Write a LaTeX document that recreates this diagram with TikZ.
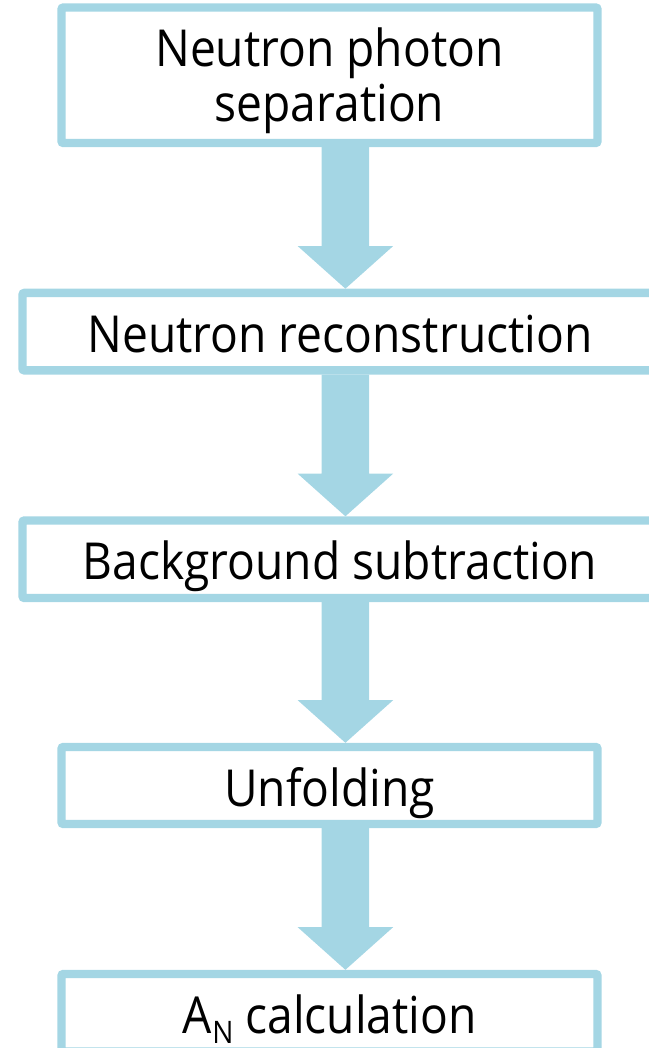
\documentclass[tikz,border=0pt]{standalone}
\usepackage{fontspec}
\setmainfont{Open Sans}[FakeStretch=0.905]
\usetikzlibrary{calc}
\definecolor{flowblue}{RGB}{164,214,228}
\tikzset{
  stepbox/.style={draw=flowblue, fill=white, line width=8.4pt, rounded corners=2pt,
    inner sep=0pt, minimum height=77.5pt, text height=41pt, text depth=0pt,
    font=\fontsize{51}{55}\selectfont, text=black},
  fatarrow/.style={fill=flowblue}
}
\newcommand\flowarrow[2]{%
  \path[fatarrow] let \p1=(#1.south -| ax), \p2=(#2.north -| ax) in
    (\x1-23.8pt,\y1) -- (\x1-23.8pt,\y2+42.6pt) -- (\x1-47.7pt,\y2+42.6pt) --
    (\x1,\y2) -- (\x1+47.7pt,\y2+42.6pt) -- (\x1+23.8pt,\y2+42.6pt) --
    (\x1+23.8pt,\y1) -- cycle;}
\begin{document}
\begin{tikzpicture}[x=1pt,y=-1pt]
\useasboundingbox (0,0) rectangle (648,1048);
\coordinate (ax) at (345.4,0);
\node[stepbox, minimum width=536pt, minimum height=135.5pt, align=center,
      text height=92.9pt, text depth=0pt] (b1) at (329.5,75.25) {Neutron photon\\separation};
\node[stepbox, minimum width=635pt] (b2) at (340,331.65) {Neutron reconstruction};
\node[stepbox, minimum width=635pt] (b3) at (340,559.25) {Background subtraction};
\node[stepbox, minimum width=536pt, minimum height=77pt] (b4) at (329.5,785.5) {Unfolding};
\node[stepbox, minimum width=536pt] (b5) at (329.5,1012.75)
  {A\kern1pt\raisebox{-10pt}{\fontsize{31}{31}\selectfont N} calculation};
\flowarrow{b1}{b2}
\flowarrow{b2}{b3}
\flowarrow{b3}{b4}
\flowarrow{b4}{b5}
\end{tikzpicture}
\end{document}
